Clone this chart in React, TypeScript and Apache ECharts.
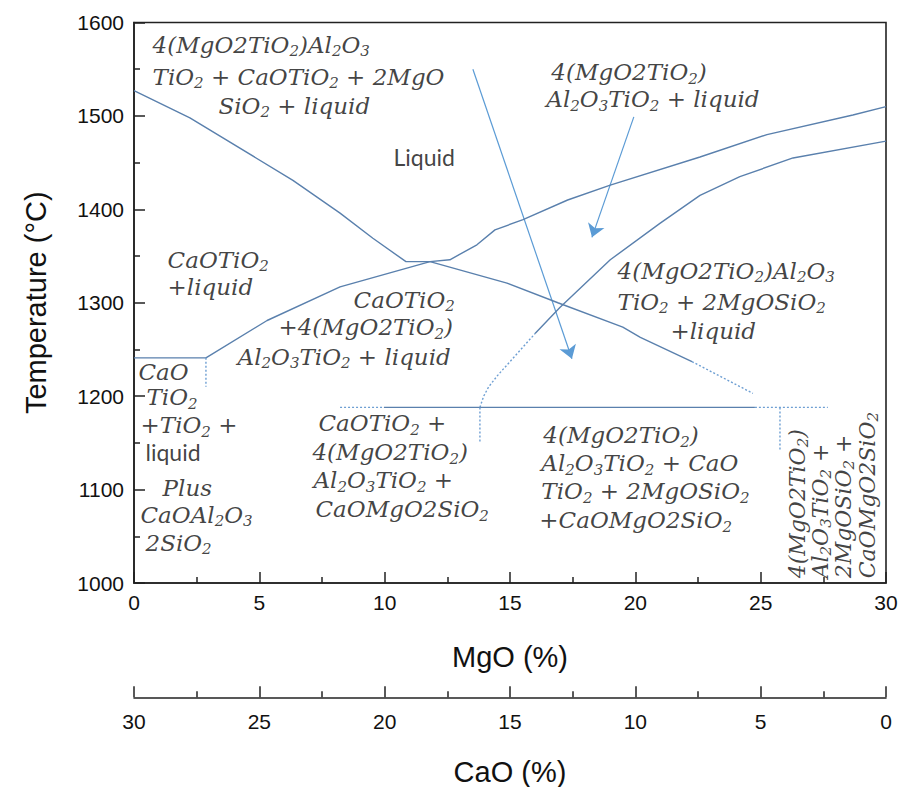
import React, { useEffect, useRef } from "react";
import * as echarts from "echarts";

// ---- Data (MgO %, Temperature °C) ----
const liquidusA: number[][] = [
  [0, 1527], [2.23, 1498], [6.34, 1431], [8.22, 1396], [9.53, 1369], [10.85, 1344],
  [11.81, 1344], [14.88, 1321], [16.91, 1300], [19.5, 1274], [20.2, 1263], [22.26, 1237],
];
const liquidusATail: number[][] = [[22.26, 1237], [24.69, 1203]];
const curveB: number[][] = [
  [0, 1241], [2.87, 1241], [5.31, 1281], [8.22, 1317], [11.81, 1344], [12.6, 1346],
  [13.68, 1362], [14.4, 1378], [15.52, 1389], [17.3, 1410], [19.0, 1426], [22.58, 1456],
  [25.25, 1480], [28.68, 1501], [30, 1510],
];
const curveC: number[][] = [
  [16.0, 1267], [16.99, 1295], [19.0, 1346], [20.98, 1385], [22.58, 1415], [24.17, 1435],
  [26.29, 1455], [30, 1473],
];
const curveCDashed: number[][] = [
  [13.8, 1188], [13.95, 1200], [14.15, 1210], [14.5, 1222], [15.0, 1237], [16.0, 1267],
];
const eutecticSolid: number[][] = [[9.97, 1188], [24.77, 1188]];
const eutecticDotLeft: number[][] = [[8.22, 1188], [9.97, 1188]];
const eutecticDotRight: number[][] = [[24.77, 1188], [27.68, 1188]];
const vertical1: number[][] = [[13.8, 1188], [13.8, 1151]];
const vertical2: number[][] = [[25.77, 1188], [25.77, 1142]];
const vertical3: number[][] = [[2.87, 1241], [2.87, 1210]];
const arrow1: number[][] = [[13.52, 1550], [17.47, 1240]];
const arrow2: number[][] = [[19.94, 1499], [18.27, 1370]];

const xTicks = [0, 5, 10, 15, 20, 25, 30];
const yTicks = [1000, 1100, 1200, 1300, 1400, 1500, 1600];

// Region labels: [MgO, T, text]  ("_" = subscript next char, "#" = plain sans text)
const regionLabels: [number, number, string][] = [
  [0.72, 1576, "4(MgO2TiO_2)Al_2O_3"],
  [0.72, 1542, "TiO_2 + CaOTiO_2 + 2MgO"],
  [3.35, 1511, "SiO_2 + liquid"],
  [10.33, 1456, "#Liquid"],
  [16.63, 1547, "4(MgO2TiO_2)"],
  [16.43, 1518, "Al_2O_3TiO_2 + liquid"],
  [1.32, 1346, "CaOTiO_2"],
  [1.32, 1317, "+liquid"],
  [8.74, 1303, "CaOTiO_2"],
  [5.74, 1274, "+4(MgO2TiO_2)"],
  [4.11, 1242, "Al_2O_3TiO_2 + liquid"],
  [19.27, 1334, "4(MgO2TiO_2)Al_2O_3"],
  [19.27, 1301, "TiO_2 + 2MgOSiO_2"],
  [21.38, 1270, "+liquid"],
  [0.16, 1226, "CaO"],
  [0.48, 1199, "TiO_2"],
  [0.24, 1169, "+TiO_2 +"],
  [0.44, 1140, "#liquid"],
  [1.12, 1102, "Plus"],
  [0.24, 1073, "CaOAl_2O_3"],
  [0.44, 1043, "2SiO_2"],
  [7.34, 1171, "CaOTiO_2 +"],
  [7.1, 1140, "4(MgO2TiO_2)"],
  [7.14, 1110, "Al_2O_3TiO_2 +"],
  [7.22, 1079, "CaOMgO2SiO_2"],
  [16.31, 1158, "4(MgO2TiO_2)"],
  [16.23, 1128, "Al_2O_3TiO_2 + CaO"],
  [16.23, 1098, "TiO_2 + 2MgOSiO_2"],
  [16.15, 1067, "+CaOMgO2SiO_2"],
];
const verticalLabels: [number, number, string][] = [
  [26.45, 1005, "4(MgO2TiO_2)"],
  [27.36, 1005, "Al_2O_3TiO_2 +"],
  [28.28, 1005, "2MgOSiO_2 +"],
  [29.24, 1005, "CaOMgO2SiO_2"],
];

function toRich(s: string): string {
  if (s.startsWith("#")) return `{p|${s.slice(1)}}`;
  let out = "";
  let buf = "";
  for (let i = 0; i < s.length; i++) {
    if (s[i] === "_") {
      if (buf) { out += `{m|${buf}}`; buf = ""; }
      out += `{s|${s[i + 1]}}`;
      i++;
    } else buf += s[i];
  }
  if (buf) out += `{m|${buf}}`;
  return out;
}

const CURVE = "#5a80ad";
const DASH = "#6e9fd3";
const ARROW = "#5b9bd5";
const AXIS = "#222";
const TEXT = "#111";

function makeRich(main: number, sub: number, pad: number) {
  return {
    m: { fontFamily: "DejaVu Serif", fontStyle: "italic", fontSize: main, lineHeight: 26, color: TEXT },
    s: {
      fontFamily: "DejaVu Serif", fontStyle: "italic", fontSize: sub, lineHeight: 10,
      verticalAlign: "top", padding: [pad, 0, 0, 0], color: TEXT,
    },
    p: { fontFamily: "Lato", fontSize: main, lineHeight: 26, color: TEXT },
  };
}
const richH = makeRich(23, 15, 12);
const richV = makeRich(22, 15, 11);

function lineSeries(data: number[][], color: string, dashed: boolean, width = 1.4) {
  return {
    type: "line",
    xAxisIndex: 0,
    yAxisIndex: 0,
    data,
    showSymbol: false,
    symbol: "none",
    silent: true,
    lineStyle: { color, width, type: dashed ? [2, 2] : "solid" },
  };
}

export default function App() {
  const ref = useRef<HTMLDivElement>(null);
  useEffect(() => {
    if (!ref.current) return;
    const chart = echarts.init(ref.current, undefined, { renderer: "svg" });
    const axisFont = { fontFamily: "Liberation Sans", fontSize: 21, color: TEXT, formatter: (v: number) => String(v) };
    const nameFont = { fontFamily: "Liberation Sans", fontSize: 29, color: TEXT };
    const xCommon = {
      type: "value",
      min: xTicks[0],
      max: xTicks[xTicks.length - 1],
      interval: 5,
      nameLocation: "middle",
      nameTextStyle: nameFont,
      axisLine: { show: true, onZero: false, lineStyle: { color: AXIS, width: 1.6 } },
      axisTick: { show: true, inside: true, length: 11, lineStyle: { color: AXIS, width: 1.5 } },
      minorTick: { show: true, splitNumber: 2, length: 6, lineStyle: { color: AXIS, width: 1.5 } },
      splitLine: { show: false },
      minorSplitLine: { show: false },
    };
    const labelSeries = (items: [number, number, string][], rich: any, rotate: number) => ({
      type: "scatter",
      xAxisIndex: 0,
      yAxisIndex: 0,
      silent: true,
      symbolSize: 1,
      itemStyle: { color: "transparent" },
      data: items.map(([x, t, s]) => ({ value: [x, t], txt: toRich(s) })),
      label: {
        show: true,
        position: "right",
        distance: 0,
        align: "left",
        verticalAlign: "middle",
        rotate,
        formatter: (p: any) => p.data.txt,
        rich,
      },
      labelLayout: { hideOverlap: false },
    });
    const option: any = {
      animation: false,
      grid: [
        { left: 134, top: 22.5, width: 752, height: 560.5, show: true, borderColor: AXIS, borderWidth: 1.6, containLabel: false },
        { left: 134, top: 697, width: 752, height: 1, show: false, containLabel: false },
      ],
      xAxis: [
        { ...xCommon, gridIndex: 0, name: "MgO (%)", nameGap: 59, axisLabel: { ...axisFont, margin: 9 } },
        { ...xCommon, gridIndex: 1, inverse: true, position: "bottom", name: "CaO (%)", nameGap: 60, axisLabel: { ...axisFont, margin: 14 } },
      ],
      yAxis: [
        {
          type: "value",
          gridIndex: 0,
          min: yTicks[0],
          max: yTicks[yTicks.length - 1],
          interval: 100,
          name: "Temperature (°C)",
          nameLocation: "middle",
          nameGap: 84,
          nameTextStyle: nameFont,
          axisLine: { show: true, onZero: false, lineStyle: { color: AXIS, width: 1.6 } },
          axisTick: { show: true, inside: true, length: 11, lineStyle: { color: AXIS, width: 1.5 } },
          minorTick: { show: true, splitNumber: 2, length: 6, lineStyle: { color: AXIS, width: 1.5 } },
          axisLabel: { ...axisFont, margin: 10 },
          splitLine: { show: false },
        },
        { type: "value", gridIndex: 1, show: false, min: 0, max: 1 },
      ],
      series: [
        lineSeries(liquidusA, CURVE, false),
        lineSeries(liquidusATail, DASH, true),
        lineSeries(curveB, CURVE, false),
        lineSeries(curveC, CURVE, false),
        lineSeries(curveCDashed, DASH, true),
        lineSeries(eutecticSolid, CURVE, false),
        lineSeries(eutecticDotLeft, DASH, true),
        lineSeries(eutecticDotRight, DASH, true),
        lineSeries(vertical1, DASH, true),
        lineSeries(vertical2, DASH, true),
        lineSeries(vertical3, DASH, true),
        {
          type: "lines",
          coordinateSystem: "cartesian2d",
          xAxisIndex: 0,
          yAxisIndex: 0,
          silent: true,
          symbol: ["none", "arrow"],
          symbolSize: [9, 13],
          lineStyle: { color: ARROW, width: 1.2, opacity: 1 },
          data: [{ coords: arrow1 }, { coords: arrow2 }],
        },
        labelSeries(regionLabels, richH, 0),
        labelSeries(verticalLabels, richV, 90),
      ],
    };
    chart.setOption(option);
    return () => chart.dispose();
  }, []);
  return (
    <div
      ref={ref}
      style={{ position: "fixed", left: 0, top: 0, width: 907, height: 787, background: "#fff" }}
    />
  );
}
